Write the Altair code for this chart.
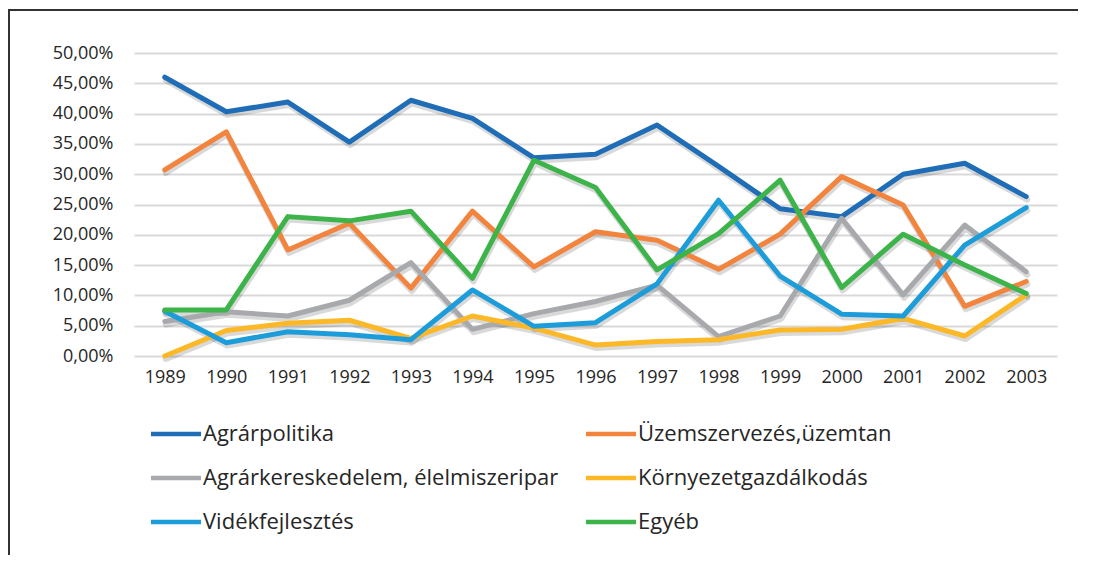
import altair as alt
import pandas as pd

years = [str(y) for y in range(1989, 2004)]
series_names = [
    "Agrárpolitika",
    "Üzemszervezés,üzemtan",
    "Agrárkereskedelem, élelmiszeripar",
    "Környezetgazdálkodás",
    "Vidékfejlesztés",
    "Egyéb",
]
agrarpolitika = [46.0, 40.3, 41.9, 35.3, 42.2, 39.2, 32.7, 33.3, 38.1, 31.3, 24.3, 23.0, 30.0, 31.8, 26.3]
uzemszervezes = [30.7, 37.0, 17.5, 21.9, 11.2, 23.9, 14.7, 20.5, 19.1, 14.3, 20.1, 29.6, 24.9, 8.2, 12.3]
agrarkereskedelem = [5.7, 7.3, 6.6, 9.2, 15.4, 4.4, 7.0, 9.0, 11.7, 3.2, 6.6, 22.7, 10.1, 21.6, 13.9]
kornyezet = [0.0, 4.2, 5.4, 5.9, 2.9, 6.6, 4.6, 1.8, 2.4, 2.7, 4.3, 4.4, 6.2, 3.3, 10.1]
videkfejlesztes = [7.4, 2.2, 4.0, 3.5, 2.7, 10.9, 4.9, 5.5, 11.9, 25.7, 13.2, 6.9, 6.6, 18.3, 24.5]
egyeb = [7.6, 7.6, 23.0, 22.3, 23.9, 12.8, 32.3, 27.8, 14.2, 20.2, 29.0, 11.3, 20.1, 15.0, 10.3]
colors = ["#1F6DB6", "#F3843E", "#A8A9AD", "#FDB827", "#1C9DDA", "#3DB44A"]
y_ticks = [0, 5, 10, 15, 20, 25, 30, 35, 40, 45, 50]

values = [agrarpolitika, uzemszervezes, agrarkereskedelem, kornyezet, videkfejlesztes, egyeb]
rows = []
for name, vals in zip(series_names, values):
    for yr, v in zip(years, vals):
        rows.append({"year": yr, "series": name, "value": v})
df = pd.DataFrame(rows)

TXT = "#262626"

x_enc = alt.X(
    "year:O",
    scale=alt.Scale(type="point", padding=0.5),
    axis=alt.Axis(
        title=None, labelAngle=0, ticks=False, domain=False, grid=False,
        labelFont="Open Sans", labelFontSize=18, labelColor=TXT, labelPadding=12,
    ),
)
y_enc = alt.Y(
    "value:Q",
    scale=alt.Scale(domain=[0, 50], nice=False),
    axis=alt.Axis(
        title=None, values=y_ticks, ticks=False, domain=False,
        grid=True, gridColor="#D9D9D9", gridWidth=2,
        labelExpr="replace(format(datum.value, '.2f'), '.', ',') + '%'",
        labelFont="Open Sans", labelFontSize=18, labelColor=TXT, labelPadding=21,
    ),
)
color_enc = alt.Color(
    "series:N",
    scale=alt.Scale(domain=series_names, range=colors),
    legend=alt.Legend(
        title=None, orient="none", legendX=27, legendY=366, columns=2,
        direction="horizontal",
        symbolType="M-2,0H2", symbolSize=625, symbolStrokeWidth=4.5,
        labelFont="Open Sans", labelFontSize=22, labelColor=TXT,
        labelOffset=12, labelLimit=600, rowPadding=18, columnPadding=18,
        padding=0,
    ),
)

base = alt.Chart(df)

shadow = base.mark_line(
    stroke="#000000", opacity=0.15, strokeWidth=6, xOffset=1, yOffset=3,
    strokeJoin="round", strokeCap="round",
).encode(x=x_enc, y=y_enc, detail="series:N")

lines = [
    base.transform_filter(alt.datum.series == s)
    .mark_line(strokeWidth=5, strokeJoin="round", strokeCap="round")
    .encode(x=x_enc, y=y_enc, color=color_enc)
    for s in series_names
]

border_top = alt.Chart(df).mark_rule(color="#333333", strokeWidth=1.5).encode(
    x=alt.value(-125.25), x2=alt.value(952), y=alt.value(-43)
)
border_left = alt.Chart(df).mark_rule(color="#333333", strokeWidth=1.5).encode(
    x=alt.value(-125.25), y=alt.value(-43), y2=alt.value(502)
)

chart = alt.layer(shadow, *lines, border_top, border_left).properties(
    width=923,
    height=303,
    padding={"left": 126, "top": 45, "right": 21, "bottom": 199},
    autosize=alt.AutoSizeParams(type="none"),
    background="white",
).configure_view(stroke=None)

chart.save("out.html", embed_options={"renderer": "svg", "actions": False})
